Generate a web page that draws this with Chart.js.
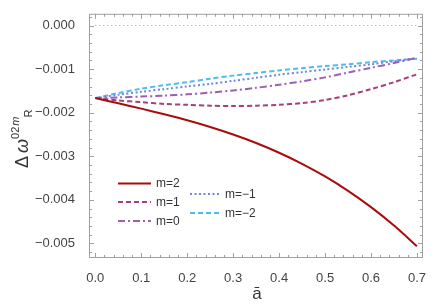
<!DOCTYPE html>
<html>
<head>
<meta charset="utf-8">
<script src="https://cdn.jsdelivr.net/npm/chart.js@4"></script>
<style>
  body { margin: 0; background: #fff; }
  canvas { display: block; }
</style>
</head>
<body>
<canvas id="freqChart" width="436" height="307"></canvas>
<script>
const spinValues = [0, 0.05, 0.1, 0.15, 0.2, 0.25, 0.3, 0.35, 0.4, 0.45, 0.5, 0.55, 0.6, 0.65, 0.7];
const shiftM2 = [-0.001666, -0.001786, -0.001908, -0.002037, -0.002175, -0.002329, -0.002502, -0.002697, -0.00292, -0.003174, -0.003465, -0.003795, -0.004169, -0.004591, -0.005066];
const shiftM1 = [-0.001666, -0.00172, -0.00176, -0.0018, -0.00182, -0.00184, -0.00185, -0.00184, -0.00182, -0.00178, -0.00171, -0.0016, -0.00146, -0.0013, -0.00112];
const shiftM0 = [-0.001666, -0.00165, -0.00163, -0.00161, -0.00158, -0.00154, -0.00149, -0.00143, -0.00136, -0.00128, -0.00119, -0.00108, -0.00097, -0.00086, -0.00074];
const shiftMm1 = [-0.001666, -0.00159, -0.00152, -0.00146, -0.0014, -0.00134, -0.00127, -0.0012, -0.00113, -0.00107, -0.00101, -0.00095, -0.00089, -0.00082, -0.00075];
const shiftMm2 = [-0.001666, -0.00155, -0.00145, -0.00137, -0.0013, -0.00122, -0.00115, -0.00109, -0.00103, -0.00098, -0.00093, -0.00089, -0.00084, -0.0008, -0.00076];
const zeroLineX = [0, 0.7];
const zeroLineY = [0, 0];
const seriesLabels = ["m=2", "m=1", "m=0", "m=\u22121", "m=\u22122"];
const xTickValues = [0, 0.1, 0.2, 0.3, 0.4, 0.5, 0.6, 0.7];
const yTickValues = [0, -0.001, -0.002, -0.003, -0.004, -0.005];

const FONT = "'Liberation Sans', Arial, sans-serif";

function toPoints(xs, ys) {
  return xs.map((x, i) => ({ x: x, y: ys[i] }));
}

function lineSet(label, ys, color, dash) {
  return {
    label: label,
    data: toPoints(spinValues, ys),
    borderColor: color,
    borderWidth: 2,
    borderDash: dash,
    pointRadius: 0,
    tension: 0.3,
    fill: false,
  };
}

// frame with inward major/minor ticks, like the original plot
const framePlugin = {
  id: "frame",
  afterDatasetsDraw(chart) {
    const { ctx, chartArea: a, scales } = chart;
    ctx.save();
    ctx.strokeStyle = "#a0a0a0";
    ctx.lineWidth = 1;
    ctx.strokeRect(a.left + 0.5, a.top + 0.5, a.right - a.left - 1, a.bottom - a.top - 1);
    ctx.beginPath();
    for (let i = -1; i <= 36; i++) {
      const v = i * 0.02;
      const px = Math.round(scales.x.getPixelForValue(v)) + 0.5;
      if (px < a.left || px > a.right) continue;
      const len = i % 5 === 0 ? 5 : 3;
      ctx.moveTo(px, a.bottom); ctx.lineTo(px, a.bottom - len);
      ctx.moveTo(px, a.top); ctx.lineTo(px, a.top + len);
    }
    for (let i = -1; i <= 27; i++) {
      const v = -i * 0.0002;
      const py = Math.round(scales.y.getPixelForValue(v)) + 0.5;
      if (py < a.top || py > a.bottom) continue;
      const len = i % 5 === 0 ? 5 : 3;
      ctx.moveTo(a.left, py); ctx.lineTo(a.left + len, py);
      ctx.moveTo(a.right, py); ctx.lineTo(a.right - len, py);
    }
    ctx.stroke();
    ctx.restore();
  },
};

// two-column legend inside the plot
const legendPlugin = {
  id: "insideLegend",
  afterDatasetsDraw(chart) {
    const { ctx } = chart;
    const spots = [[118, 183.5, 33], [118, 202, 33], [118, 221, 33], [190, 194, 30], [190, 213, 30]];
    ctx.save();
    ctx.font = "12px " + FONT;
    ctx.textBaseline = "middle";
    ctx.fillStyle = "#333";
    seriesLabels.forEach((label, i) => {
      const ds = chart.data.datasets[i];
      const [x, y, w] = spots[i];
      ctx.strokeStyle = ds.borderColor;
      ctx.lineWidth = ds.borderWidth;
      ctx.setLineDash(ds.borderDash || []);
      ctx.beginPath();
      ctx.moveTo(x, y);
      ctx.lineTo(x + w, y);
      ctx.stroke();
      ctx.setLineDash([]);
      ctx.fillText(label, x + w + 5, y + 0.5);
    });
    ctx.restore();
  },
};

// axis titles with super/subscripts
const titlePlugin = {
  id: "axisTitles",
  afterDraw(chart) {
    const { ctx } = chart;
    ctx.save();
    ctx.fillStyle = "#333";
    ctx.textAlign = "center";
    ctx.textBaseline = "alphabetic";
    ctx.font = "17px " + FONT;
    ctx.fillText("\u0101", 257, 299);

    ctx.translate(28, 168);
    ctx.rotate(-Math.PI / 2);
    ctx.textAlign = "left";
    let x = 0;
    const put = (txt, font, dy) => {
      ctx.font = font;
      ctx.fillText(txt, x, dy);
      x += ctx.measureText(txt).width;
    };
    put("\u0394", "18px " + FONT, 0);
    x += 3;
    put("\u03c9", "italic 18px " + FONT, 0);
    put("02", "11px " + FONT, -9);
    x += 1;
    put("m", "italic 11px " + FONT, -9);
    x -= 1;
    put("R", "11px " + FONT, 4);
    ctx.restore();
  },
};

function createShiftChart() {
  const ctx = document.getElementById("freqChart");
  if (!ctx) return;

  return new Chart(ctx, {
    type: "line",
    data: {
      datasets: [
        lineSet(seriesLabels[0], shiftM2, "#a80d0d", []),
        lineSet(seriesLabels[1], shiftM1, "#a63f7e", [5, 3]),
        lineSet(seriesLabels[2], shiftM0, "#9b5fb5", [7, 3, 2, 3]),
        lineSet(seriesLabels[3], shiftMm1, "#7085dc", [2, 2.5]),
        lineSet(seriesLabels[4], shiftMm2, "#4dbdf0", [5, 3]),
        {
          label: "zero",
          data: toPoints(zeroLineX, zeroLineY),
          borderColor: "#9a9a9a",
          borderWidth: 1,
          borderDash: [1, 3],
          pointRadius: 0,
          fill: false,
        },
      ],
    },
    options: {
      responsive: false,
      animation: false,
      layout: { padding: { left: 0, right: 13, top: 8, bottom: 0 } },
      plugins: {
        legend: { display: false },
        tooltip: { enabled: false },
      },
      scales: {
        x: {
          type: "linear",
          min: -0.0137,
          max: 0.7131,
          grid: { display: false },
          border: { display: false },
          afterBuildTicks: (scale) => {
            scale.ticks = xTickValues.map((v) => ({ value: v }));
          },
          afterFit: (scale) => {
            scale.height = 49;
          },
          ticks: {
            padding: 5,
            color: "#444",
            font: { family: FONT, size: 13 },
            maxRotation: 0,
            callback: (value) => value.toFixed(1),
          },
        },
        y: {
          type: "linear",
          min: -0.005336,
          max: 0.000269,
          grid: { display: false },
          border: { display: false },
          afterBuildTicks: (scale) => {
            scale.ticks = yTickValues.map((v) => ({ value: v }));
          },
          afterFit: (scale) => {
            scale.width = 89;
          },
          ticks: {
            padding: 6,
            color: "#444",
            font: { family: FONT, size: 13 },
            callback: (value) => (Math.abs(value) < 1e-9 ? "0.000" : "\u2212" + Math.abs(value).toFixed(3)),
          },
        },
      },
    },
    plugins: [framePlugin, legendPlugin, titlePlugin],
  });
}

document.addEventListener("DOMContentLoaded", createShiftChart);
</script>
</body>
</html>
